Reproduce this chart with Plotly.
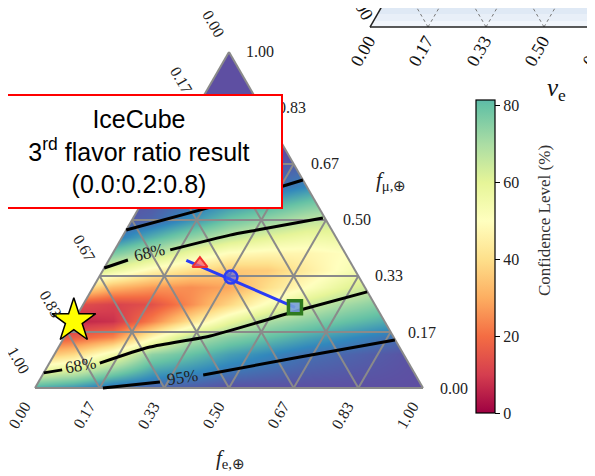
import numpy as np
import plotly.graph_objects as go

# ---------------- data ----------------
tick_fracs = [0, 1/6, 2/6, 3/6, 4/6, 5/6, 1]
tick_labels = ["0.00", "0.17", "0.33", "0.50", "0.67", "0.83", "1.00"]

# confidence-level map: columns at horizontal position (fraction of base), rows at f_mu
heat_x = [0.0, 0.1, 0.2, 0.3, 0.4, 0.5, 0.6, 0.7, 0.8, 0.9, 1.0]
heat_fmu = [0.0, 0.1, 0.15, 0.2, 0.25, 0.3, 0.35, 0.4, 0.45, 0.5, 0.6, 0.7, 0.8, 0.9, 1.0]
heat_cl = [
    [85, 89, 95, 97, 98, 100, 100, 100, 100, 100, 100],
    [32, 39, 55, 74, 80, 86, 90, 94, 96, 98, 100],
    [13, 17, 24, 48, 68, 75, 80, 85, 89, 93, 96],
    [4, 6, 8, 23, 41, 58, 70, 75, 80, 84, 88],
    [20, 14, 11, 14, 25, 38, 52, 64, 71, 76, 81],
    [66, 44, 32, 27, 25, 29, 40, 50, 60, 68, 73],
    [82, 72, 58, 47, 40, 35, 36, 44, 52, 60, 67],
    [96, 87, 77, 68, 57, 49, 47, 47, 50, 56, 63],
    [99, 97, 93, 83, 74, 66, 60, 56, 57, 59, 63],
    [100, 100, 99, 96, 88, 79, 73, 67, 64, 64, 65],
    [100, 100, 100, 100, 100, 98, 96, 90, 83, 79, 75],
    [100, 100, 100, 100, 100, 100, 100, 100, 99, 96, 91],
    [100, 100, 100, 100, 100, 100, 100, 100, 100, 100, 100],
    [100, 100, 100, 100, 100, 100, 100, 100, 100, 100, 100],
    [100, 100, 100, 100, 100, 100, 100, 100, 100, 100, 100],
]

# contour lines (f_e, f_mu), None = gap for the label
c95_upper_fe = [0.0, 0.154, 0.268, 0.381]
c95_upper_fmu = [0.470, 0.527, 0.571, 0.619]
c68_upper_fe = [0.0, 0.049, None, 0.143, 0.275, 0.337, 0.489]
c68_upper_fmu = [0.357, 0.381, None, 0.411, 0.455, 0.470, 0.506]
c68_lower_fe = [0.0, 0.043, None, 0.130, 0.235, 0.374, 0.567, 0.713]
c68_lower_fmu = [0.045, 0.054, None, 0.074, 0.122, 0.155, 0.232, 0.286]
c95_lower_fe = [0.175, 0.313, None, 0.414, 0.637, 0.856]
c95_lower_fmu = [0.0, 0.018, None, 0.039, 0.092, 0.143]

clabel_text = ["68%", "68%", "95%"]
clabel_fe = [0.095, 0.082, 0.364]
clabel_fmu = [0.402, 0.068, 0.030]
clabel_angle = [-13, -10, -9]

# markers
star_fe, star_fmu = [0.0], [0.2]
tri_fe, tri_fmu = [0.24], [0.37]
circ_fe, circ_fmu = [0.34], [0.33]
sq_fe, sq_fmu = [0.55], [0.24]
path_fe = [0.20, 0.55]
path_fmu = [0.38, 0.24]

cbar_ticks = [0, 20, 40, 60, 80]
inset_labels = ["0.00", "0.17", "0.33", "0.50", "0.67"]

# ---------------- helpers ----------------
W, H = 595, 476          # window
OFF = 8                  # page body margin
FW, FH = W - OFF, H - OFF
PX0, PY0, SIDE = 35, 388, 388   # triangle placement in window pixels
SQ = np.sqrt(3) / 2
SERIF = "Liberation Serif"

spectral = ['#9e0142', '#d53e4f', '#f46d43', '#fdae61', '#fee08b', '#ffffbf',
            '#e6f598', '#abdda4', '#66c2a5', '#3288bd', '#5e4fa2']


def hex2rgb(h):
    h = h.lstrip('#')
    return [int(h[i:i + 2], 16) for i in (0, 2, 4)]


def spec_at(p):
    p = min(max(p, 0), 1) * 10
    i = min(int(p), 9)
    f = p - i
    a, b = hex2rgb(spectral[i]), hex2rgb(spectral[i + 1])
    c = [round(a[k] + (b[k] - a[k]) * f) for k in range(3)]
    return f"rgb({c[0]},{c[1]},{c[2]})"


full_scale = [[i / 10, c] for i, c in enumerate(spectral)]
CB_TOP = (413 - 100) / (413 - 29) * 100  # part of the bar left visible
cut = CB_TOP / 100
trunc_scale = [[(i / 10) / cut, c] for i, c in enumerate(spectral) if i / 10 < cut]
trunc_scale.append([1.0, spec_at(cut)])


def tx(fe, fmu):
    return [None if a is None else a + b / 2 for a, b in zip(fe, fmu)]


def ty(fe, fmu):
    return [None if a is None else b * SQ for a, b in zip(fe, fmu)]


def P(px, py):
    """window pixel -> paper coords"""
    return (px - OFF) / FW, 1 - (py - OFF) / FH


def lab(x, y, text, size=16, angle=0, ref='paper', xshift=0, yshift=0, color='#222'):
    yref = 'y' if ref == 'x' else ref
    return dict(x=x, y=y, xref=ref, yref=yref, text=text, showarrow=False,
                xanchor='center', yanchor='middle', textangle=angle,
                xshift=xshift, yshift=yshift,
                font=dict(family=SERIF, size=size, color=color))


fig = go.Figure()

# heatmap
fig.add_trace(go.Heatmap(x=heat_x, y=[f * SQ for f in heat_fmu], z=heat_cl,
                         zsmooth='best', colorscale=full_scale, zmin=0, zmax=100,
                         showscale=False, hoverinfo='skip'))

# white masks outside the triangle
masks = [
    ([-1, 0, 0.5, 0.5, -1], [-1, 0, SQ, 2, 2]),
    ([0.5, 1, 2, 2, 0.5], [SQ, 0, -1, 2, 2]),
    ([-1, 2, 2, -1], [0, 0, -1, -1]),
]
for mx, my in masks:
    fig.add_trace(go.Scatter(x=mx, y=my, fill='toself', fillcolor='white', mode='lines',
                             line=dict(width=0, color='white'), hoverinfo='skip'))

# grid lines (1/6 spacing) incl. triangle border
gx, gy = [], []
for f in tick_fracs:
    segs = [((0, f), (1 - f, f)),          # constant f_mu
            ((f, 0), (f, 1 - f)),          # constant f_e
            ((1 - f, 0), (0, 1 - f))]      # constant f_tau
    for (a, b) in segs:
        gx += tx([a[0], b[0]], [a[1], b[1]]) + [None]
        gy += ty([a[0], b[0]], [a[1], b[1]]) + [None]
fig.add_trace(go.Scatter(x=gx, y=gy, mode='lines', line=dict(color='#8a8a8a', width=2),
                         hoverinfo='skip'))

# contour lines
for fe, fmu in [(c95_upper_fe, c95_upper_fmu), (c68_upper_fe, c68_upper_fmu),
                (c68_lower_fe, c68_lower_fmu), (c95_lower_fe, c95_lower_fmu)]:
    fig.add_trace(go.Scatter(x=tx(fe, fmu), y=ty(fe, fmu), mode='lines',
                             line=dict(color='black', width=3, shape='spline', smoothing=0.6),
                             connectgaps=False, hoverinfo='skip'))

# source path + markers
fig.add_trace(go.Scatter(x=tx(path_fe, path_fmu), y=ty(path_fe, path_fmu), mode='lines',
                         line=dict(color='#2b3cf5', width=3), hoverinfo='skip'))
fig.add_trace(go.Scatter(x=tx(tri_fe, tri_fmu), y=ty(tri_fe, tri_fmu), mode='markers',
                         marker=dict(symbol='triangle-up', size=13, color='rgba(250,90,110,0.75)',
                                     line=dict(color='#f03030', width=2))))
fig.add_trace(go.Scatter(x=tx(circ_fe, circ_fmu), y=ty(circ_fe, circ_fmu), mode='markers',
                         marker=dict(symbol='circle', size=13, color='rgba(60,80,255,0.55)',
                                     line=dict(color='#2b3cf5', width=2.5))))
fig.add_trace(go.Scatter(x=tx(sq_fe, sq_fmu), y=ty(sq_fe, sq_fmu), mode='markers',
                         marker=dict(symbol='square', size=13, color='rgba(120,160,220,0.9)',
                                     line=dict(color='#2f7a1f', width=3.5))))
fig.add_trace(go.Scatter(x=tx(star_fe, star_fmu), y=ty(star_fe, star_fmu), mode='markers',
                         marker=dict(symbol='star', size=33, color='#ffff00',
                                     line=dict(color='black', width=1.5))))

# colorbar (visible part only)
fig.add_trace(go.Scatter(x=[-5], y=[-5], mode='markers', hoverinfo='skip',
                         marker=dict(color=[0], cmin=0, cmax=CB_TOP, colorscale=trunc_scale,
                                     showscale=True,
                                     colorbar=dict(x=(476 - OFF) / FW, xanchor='left', xpad=0, ypad=0,
                                                   y=(H - 413) / FH, yanchor='bottom',
                                                   len=(413 - 100) / FH, lenmode='fraction',
                                                   thickness=19, thicknessmode='pixels',
                                                   outlinewidth=1.2, outlinecolor='black',
                                                   ticks='outside', ticklen=5, tickwidth=1.2,
                                                   tickcolor='black', tickvals=cbar_ticks,
                                                   tickfont=dict(family=SERIF, size=16, color='#222')))))

ann = []
# bottom (f_e) tick labels
for f, t in zip(tick_fracs, tick_labels):
    ann.append(lab(tx([f], [0])[0], 0, t, angle=-60, ref='x', xshift=-16, yshift=-27))
# right (f_mu) tick labels
for f, t in zip(tick_fracs, tick_labels):
    ann.append(lab(tx([1 - f], [f])[0], ty([1 - f], [f])[0], t, ref='x', xshift=31))
# left (f_tau) tick labels
for f, t in zip(tick_fracs, tick_labels):
    ann.append(lab(tx([0], [1 - f])[0], ty([0], [1 - f])[0], t, ref='x', angle=60,
                   xshift=-16, yshift=28))
# contour labels
for t, fe, fmu, a in zip(clabel_text, clabel_fe, clabel_fmu, clabel_angle):
    ann.append(lab(tx([fe], [fmu])[0], ty([fe], [fmu])[0], t, size=17, angle=a, ref='x'))
# axis titles
ann.append(lab(*P(230, 459), "<i>f</i><sub>e,⊕</sub>", size=21))
ann.append(lab(*P(391, 181), "<i>f</i><sub>μ,⊕</sub>", size=21))
# colorbar title
ann.append(lab(*P(545, 221), "Confidence Level (%)", size=17, angle=-90, color='#333'))

# ---- inset remnant of the neighbouring chart (top right) ----
IX0, IY0, ISTEP = 370, 27, 58
shapes = []
stripe_cols = ['#d7e3f2', '#dfe9f5', '#e8eff8', '#f1f5fb']
bands = [(-2, 7), (7, 14), (14, 21), (21, IY0)]
for (ya, yb), col in zip(bands, stripe_cols):
    xa = IX0 + (IY0 - ya) / np.sqrt(3)
    xb = IX0 + (IY0 - yb) / np.sqrt(3)
    pts = [P(xb, yb), P(600, yb), P(600, ya), P(xa, ya)]
    path = "M " + " L ".join(f"{p[0]},{p[1]}" for p in pts) + " Z"
    shapes.append(dict(type='path', xref='paper', yref='paper', path=path,
                       fillcolor=col, line=dict(width=0), layer='above'))
for k in range(1, 5):
    bx = IX0 + ISTEP * k
    for sgn in (-1, 1):
        a, b = P(bx, IY0), P(bx + sgn * (IY0 + 3) / np.sqrt(3), -3)
        shapes.append(dict(type='line', xref='paper', yref='paper', x0=a[0], y0=a[1],
                           x1=b[0], y1=b[1], line=dict(color='#777', width=1, dash='dot'),
                           layer='above'))
a, b = P(IX0, IY0), P(600, IY0)
shapes.append(dict(type='line', xref='paper', yref='paper', x0=a[0], y0=a[1], x1=b[0], y1=b[1],
                   line=dict(color='#222', width=1.5), layer='above'))
a, b = P(IX0, IY0), P(IX0 + (IY0 + 3) / np.sqrt(3), -3)
shapes.append(dict(type='line', xref='paper', yref='paper', x0=a[0], y0=a[1], x1=b[0], y1=b[1],
                   line=dict(color='#222', width=1.5), layer='above'))
for k, t in enumerate(inset_labels):
    ann.append(lab(*P(IX0 + ISTEP * k - 7, 51), t, size=18, angle=-60, color='#111'))
ann.append(lab(*P(361, 5), "0.00", size=18, angle=60, color='#111'))
ann.append(lab(*P(556, 89), "<i>ν</i><sub>e</sub>", size=25, color='#111'))

# ---- red text box (drawn last, covers labels) ----
x0, y0 = P(283, 151.5)
ann.append(dict(x=x0, y=y0, xref='paper', yref='paper', xanchor='right', yanchor='middle',
                text="IceCube<br>3<sup>rd</sup> flavor ratio result<br>(0.0:0.2:0.8)",
                showarrow=False, align='center',
                font=dict(family='Liberation Sans', size=25, color='black'),
                bgcolor='white', bordercolor='#ff0000', borderwidth=2, borderpad=0,
                width=284, height=111))

fig.update_layout(
    width=FW, height=FH, autosize=False,
    margin=dict(l=0, r=0, t=0, b=0),
    paper_bgcolor='white', plot_bgcolor='white',
    showlegend=False,
    xaxis=dict(range=[(OFF - PX0) / SIDE, (W - PX0) / SIDE], visible=False, fixedrange=True),
    yaxis=dict(range=[(PY0 - H) / SIDE, (PY0 - OFF) / SIDE], visible=False, fixedrange=True),
    annotations=ann, shapes=shapes,
)

fig.write_html("out.html")
